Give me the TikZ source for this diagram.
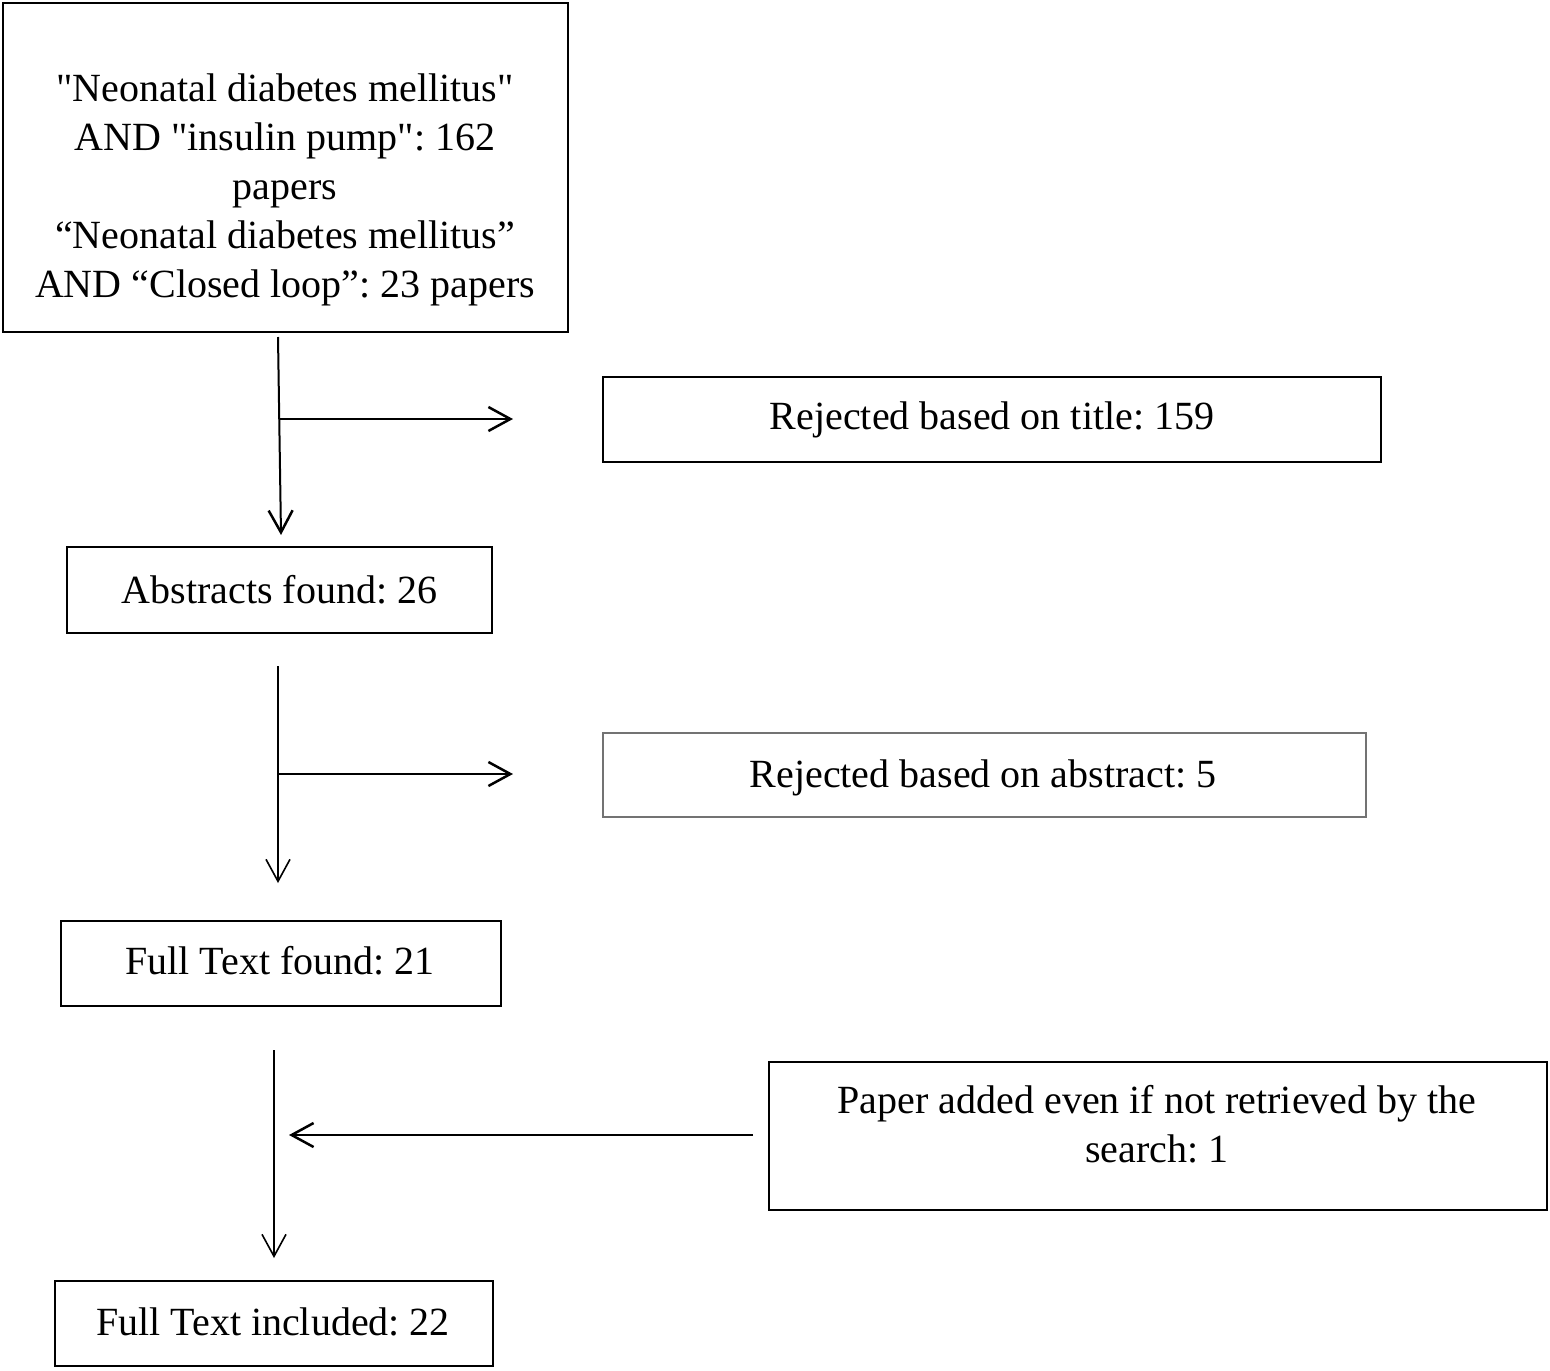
\documentclass[tikz,border=0pt]{standalone}
\usepackage{fontspec}
\newfontfamily\rawserif{Liberation Serif}
\usetikzlibrary{arrows.meta}
\tikzset{
  txt/.style={font=\rawserif\fontsize{20}{24.5}\selectfont\frenchspacing, align=center, inner sep=0pt},
  boxnode/.style={draw=black, line width=1pt, inner sep=0pt, fill=none},
  graybox/.style={draw=black!55, line width=0.75pt, inner sep=0pt},
  conn/.style={line width=1pt, -{Straight Barb[length=11pt,width=12pt,line width=1.25pt]}},
  thinconn/.style={line width=0.75pt, -{Straight Barb[length=11pt,width=12pt,line width=0.8pt]}}
}
\begin{document}
\begin{tikzpicture}[x=0.5pt,y=-0.5pt]
\useasboundingbox (0,0) rectangle (1550,1370);
% boxes
\node[boxnode, line width=1.25pt, minimum width=282.5pt, minimum height=164.5pt] (top) at (285.5,167.5) {};
\node[txt] (toptext) at (285,190) {"Neonatal diabetes mellitus"\\AND "insulin pump": 162\\papers\\“Neonatal diabetes mellitus”\\AND “Closed loop”: 23 papers};
\node[boxnode, minimum width=389pt, minimum height=42.5pt, txt] (rejt) at (992,419.5) {Rejected based on title: 159};
\node[boxnode, minimum width=212.5pt, minimum height=43pt, txt] (abs) at (279.5,590) {Abstracts found: 26};
\node[graybox, minimum width=381.5pt, minimum height=42pt, txt] (reja) at (984.5,775) {};
\node[txt] (rejatext) at (983,778) {Rejected based on abstract: 5};
\node[boxnode, minimum width=220pt, minimum height=42.5pt] (ftf) at (281,963.5) {};
\node[txt] (ftftext) at (280,961) {Full Text found: 21};
\node[boxnode, minimum width=389pt, minimum height=74pt] (add) at (1158,1136) {};
\node[txt] (addtext) at (1157,1124) {Paper added even if not retrieved by the\\search: 1};
\node[boxnode, minimum width=219pt, minimum height=42.5pt] (fti) at (274,1323.5) {};
\node[txt] (ftitext) at (273,1322) {Full Text included: 22};
% connector coordinates
\coordinate (v1s) at (278,337);
\coordinate (v1e) at (281,535);
\coordinate (j1) at (280,419);
\coordinate (h1e) at (513,419);
\coordinate (v2s) at (278,666);
\coordinate (v2e) at (278,883);
\coordinate (j2) at (279,774);
\coordinate (h2e) at (513,774);
\coordinate (v3s) at (274,1050);
\coordinate (v3e) at (274,1258);
\coordinate (h3s) at (753,1135);
\coordinate (h3e) at (289,1135);
% connectors
\draw[conn] (v1s) -- (v1e);
\draw[conn] (j1) -- (h1e);
\draw[thinconn] (v2s) -- (v2e);
\draw[conn] (j2) -- (h2e);
\draw[thinconn] (v3s) -- (v3e);
\draw[conn] (h3s) -- (h3e);
\end{tikzpicture}
\end{document}
